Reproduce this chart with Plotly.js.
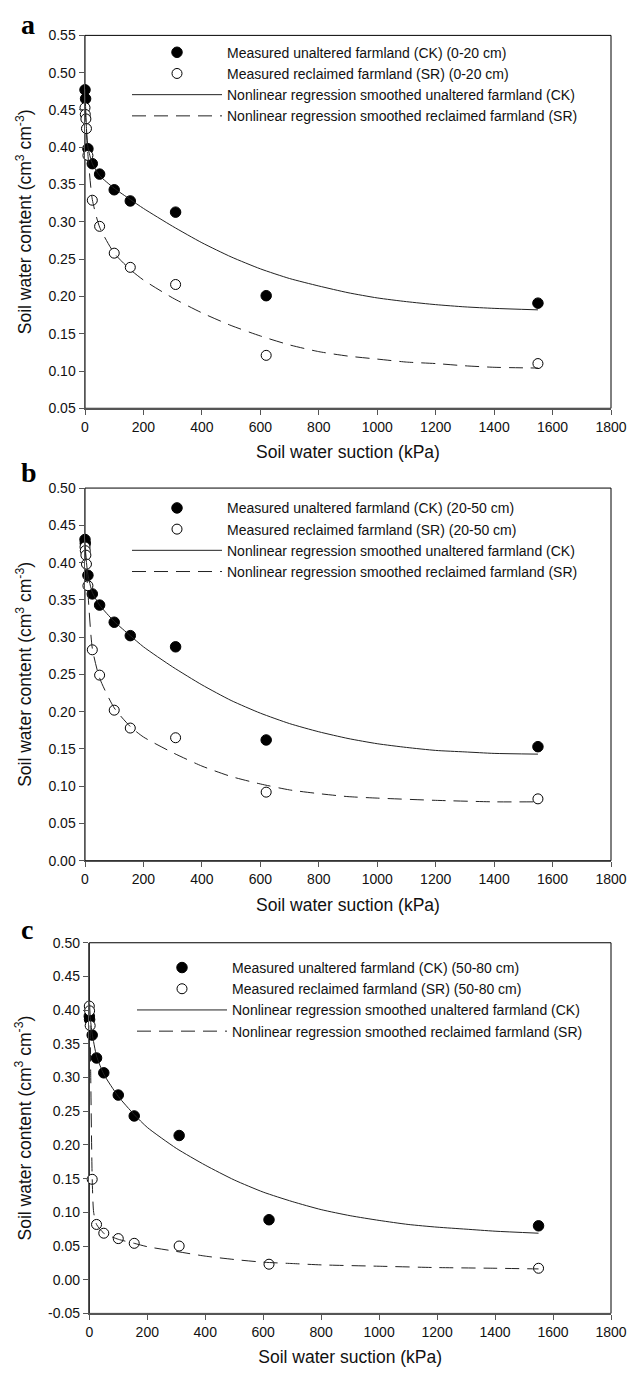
<!DOCTYPE html>
<html>
<head>
<meta charset="utf-8">
<script src="https://cdn.plot.ly/plotly-3.0.1.min.js"></script>
<style>html,body{margin:0;padding:0;background:#fff;}#chart{width:628px;height:1382px;}</style>
</head>
<body>
<div id="chart"></div>
<script>
// ---------- Panel a (0-20 cm) ----------
const suctionA_CK = [0, 2, 10, 25, 50, 100, 155, 310, 620, 1550];
const thetaA_CK   = [0.477, 0.465, 0.398, 0.378, 0.364, 0.343, 0.328, 0.313, 0.201, 0.191];
const suctionA_SR = [0, 1, 3, 5, 10, 25, 50, 100, 155, 310, 620, 1550];
const thetaA_SR   = [0.453, 0.444, 0.438, 0.425, 0.389, 0.329, 0.294, 0.258, 0.239, 0.216, 0.121, 0.110];
const fitSuctionA_CK = [0, 2, 5, 10, 25, 50, 100, 155, 200, 300, 400, 500, 600, 700, 800, 900, 1000, 1100, 1200, 1300, 1400, 1550];
const fitThetaA_CK   = [0.478, 0.455, 0.425, 0.400, 0.378, 0.362, 0.345, 0.330, 0.318, 0.294, 0.272, 0.253, 0.237, 0.224, 0.214, 0.205, 0.198, 0.193, 0.189, 0.186, 0.184, 0.182];
const fitSuctionA_SR = [0, 2, 5, 10, 25, 50, 100, 155, 200, 300, 400, 500, 600, 700, 800, 900, 1000, 1100, 1200, 1300, 1400, 1550];
const fitThetaA_SR   = [0.453, 0.440, 0.420, 0.390, 0.330, 0.293, 0.258, 0.236, 0.222, 0.198, 0.178, 0.161, 0.147, 0.135, 0.126, 0.120, 0.116, 0.112, 0.110, 0.107, 0.105, 0.104];

// ---------- Panel b (20-50 cm) ----------
const suctionB_CK = [0, 1, 10, 25, 50, 100, 155, 310, 620, 1550];
const thetaB_CK   = [0.431, 0.426, 0.383, 0.358, 0.343, 0.320, 0.302, 0.287, 0.162, 0.153];
const suctionB_SR = [0, 1, 3, 5, 10, 25, 50, 100, 155, 310, 620, 1550];
const thetaB_SR   = [0.421, 0.416, 0.410, 0.398, 0.369, 0.283, 0.249, 0.202, 0.178, 0.165, 0.092, 0.083];
const fitSuctionB_CK = [0, 2, 5, 10, 25, 50, 100, 155, 200, 300, 400, 500, 600, 700, 800, 900, 1000, 1100, 1200, 1300, 1400, 1550];
const fitThetaB_CK   = [0.431, 0.415, 0.400, 0.384, 0.360, 0.343, 0.321, 0.302, 0.287, 0.260, 0.236, 0.215, 0.198, 0.184, 0.173, 0.164, 0.157, 0.152, 0.148, 0.146, 0.144, 0.143];
const fitSuctionB_SR = [0, 2, 5, 10, 25, 50, 100, 155, 200, 300, 400, 500, 600, 700, 800, 900, 1000, 1200, 1400, 1550];
const fitThetaB_SR   = [0.421, 0.410, 0.390, 0.360, 0.285, 0.245, 0.205, 0.180, 0.166, 0.145, 0.127, 0.113, 0.103, 0.095, 0.090, 0.086, 0.084, 0.081, 0.079, 0.079];

// ---------- Panel c (50-80 cm) ----------
const suctionC_CK = [0, 1, 10, 25, 50, 100, 155, 310, 620, 1550];
const thetaC_CK   = [0.391, 0.386, 0.363, 0.329, 0.307, 0.274, 0.243, 0.214, 0.089, 0.080];
const suctionC_SR = [0, 1, 3, 10, 25, 50, 100, 155, 310, 620, 1550];
const thetaC_SR   = [0.406, 0.399, 0.377, 0.149, 0.082, 0.069, 0.061, 0.054, 0.050, 0.023, 0.017];
const fitSuctionC_CK = [0, 1, 3, 10, 25, 50, 100, 155, 200, 300, 400, 500, 600, 700, 800, 900, 1000, 1100, 1200, 1300, 1400, 1550];
const fitThetaC_CK   = [0.450, 0.410, 0.390, 0.365, 0.332, 0.305, 0.272, 0.245, 0.226, 0.195, 0.170, 0.148, 0.130, 0.116, 0.104, 0.095, 0.088, 0.082, 0.078, 0.075, 0.072, 0.069];
const fitSuctionC_SR = [0, 1, 3, 5, 10, 15, 25, 50, 100, 155, 200, 300, 400, 500, 600, 700, 800, 1000, 1200, 1400, 1550];
const fitThetaC_SR   = [0.410, 0.400, 0.370, 0.300, 0.150, 0.100, 0.082, 0.069, 0.060, 0.054, 0.049, 0.042, 0.035, 0.030, 0.026, 0.024, 0.022, 0.020, 0.018, 0.017, 0.016];

// ---------- Axis ticks / labels ----------
const xTicks = [0, 200, 400, 600, 800, 1000, 1200, 1400, 1600, 1800];
const legendA = ["Measured unaltered farmland (CK) (0-20 cm)", "Measured reclaimed farmland (SR) (0-20 cm)",
                 "Nonlinear regression smoothed unaltered farmland (CK)", "Nonlinear regression smoothed reclaimed farmland (SR)"];
const legendB = ["Measured unaltered farmland (CK) (20-50 cm)", "Measured reclaimed farmland (SR) (20-50 cm)",
                 "Nonlinear regression smoothed unaltered farmland (CK)", "Nonlinear regression smoothed reclaimed farmland (SR)"];
const legendC = ["Measured unaltered farmland (CK) (50-80 cm)", "Measured reclaimed farmland (SR) (50-80 cm)",
                 "Nonlinear regression smoothed unaltered farmland (CK)", "Nonlinear regression smoothed reclaimed farmland (SR)"];
const panelLetters = ["a", "b", "c"];

const FONT = "Liberation Sans, Arial, sans-serif";
const W = 628, H = 1382;

function panelTraces(ax, leg, names, ck, ckY, sr, srY, fck, fckY, fsr, fsrY) {
  const xa = 'x' + ax, ya = 'y' + ax;
  return [
    {x: ck, y: ckY, type: 'scatter', mode: 'markers', name: names[0], legend: leg, xaxis: xa, yaxis: ya,
     marker: {symbol: 'circle', size: 10.5, color: '#000', line: {color: '#000', width: 1}}, cliponaxis: false},
    {x: sr, y: srY, type: 'scatter', mode: 'markers', name: names[1], legend: leg, xaxis: xa, yaxis: ya,
     marker: {symbol: 'circle', size: 10, color: '#fff', line: {color: '#000', width: 1}}, cliponaxis: false},
    {x: fck, y: fckY, type: 'scatter', mode: 'lines', name: names[2], legend: leg, xaxis: xa, yaxis: ya,
     line: {color: '#222', width: 1, shape: 'spline', smoothing: 0.6}},
    {x: fsr, y: fsrY, type: 'scatter', mode: 'lines', name: names[3], legend: leg, xaxis: xa, yaxis: ya,
     line: {color: '#222', width: 1, dash: '14px,8px', shape: 'spline', smoothing: 0.6}}
  ];
}

const data = [].concat(
  panelTraces('', 'legend', legendA, suctionA_CK, thetaA_CK, suctionA_SR, thetaA_SR, fitSuctionA_CK, fitThetaA_CK, fitSuctionA_SR, fitThetaA_SR),
  panelTraces('2', 'legend2', legendB, suctionB_CK, thetaB_CK, suctionB_SR, thetaB_SR, fitSuctionB_CK, fitThetaB_CK, fitSuctionB_SR, fitThetaB_SR),
  panelTraces('3', 'legend3', legendC, suctionC_CK, thetaC_CK, suctionC_SR, thetaC_SR, fitSuctionC_CK, fitThetaC_CK, fitSuctionC_SR, fitThetaC_SR)
);

// pixel boxes of plot areas
const boxes = [
  {l: 85, r: 611, t: 27.7, b: 405},
  {l: 85, r: 611, t: 485.7, b: 862.7},
  {l: 89.3, r: 611, t: 945.7, b: 1320.7}
];
const yRanges = [[0.05, 0.55], [0.0, 0.5], [-0.05, 0.5]];

function xAxis(i) {
  const b = boxes[i];
  return {
    domain: [b.l / W, b.r / W], anchor: i === 0 ? 'y' : 'y' + (i + 1),
    range: [0, 1800], tickvals: xTicks, ticktext: xTicks.map(String),
    ticks: 'outside', ticklen: 5, tickwidth: 1, tickcolor: '#555',
    showline: true, linecolor: '#555', linewidth: 1.5, showgrid: false, zeroline: false,
    tickfont: {family: FONT, size: 14, color: '#111'},
    title: {text: 'Soil water suction (kPa)', font: {family: FONT, size: 17.5, color: '#111'}, standoff: 12},
    automargin: false
  };
}
function yAxis(i) {
  const b = boxes[i];
  const r = yRanges[i];
  const vals = [];
  for (let k = 0; r[0] + k * 0.05 <= r[1] + 1e-9; k++) vals.push(+(r[0] + k * 0.05).toFixed(2));
  return {
    domain: [1 - b.b / H, 1 - b.t / H], anchor: i === 0 ? 'x' : 'x' + (i + 1),
    range: r, tickvals: vals, ticktext: vals.map(v => v.toFixed(2)),
    ticks: 'outside', ticklen: 5, tickwidth: 1, tickcolor: '#555',
    showline: true, linecolor: '#555', linewidth: 1.5, showgrid: false, zeroline: false,
    tickfont: {family: FONT, size: 14, color: '#111'},
    title: {text: 'Soil water content (cm<sup>3</sup> cm<sup>-3</sup>)', font: {family: FONT, size: 17.5, color: '#111'}, standoff: 12},
    automargin: true
  };
}

const legendTops = [29, 490, 955];
const legendLefts = [127, 127, 132];
function legendSpec(i) {
  return {
    x: legendLefts[i] / W, xanchor: 'left', y: 1 - legendTops[i] / H, yanchor: 'top',
    bgcolor: 'rgba(0,0,0,0)', borderwidth: 0, tracegroupgap: 0, itemwidth: 90,
    font: {family: FONT, size: 14, color: '#111'}
  };
}

const shapes = boxes.map((b, i) => ({
  type: 'rect', xref: 'paper', yref: 'paper', layer: 'below',
  x0: b.l / W, x1: b.r / W, y0: 1 - b.b / H, y1: 1 - b.t / H,
  line: {color: '#000', width: 1}
}));

const letterY = [17, 470, 932];
const annotations = panelLetters.map((t, i) => ({
  text: '<b>' + t + '</b>', xref: 'paper', yref: 'paper', x: 19 / W, y: 1 - letterY[i] / H,
  xanchor: 'left', yanchor: 'middle', showarrow: false,
  font: {family: 'Liberation Serif, Times New Roman, serif', size: 28, color: '#000'}
}));

const layout = {
  width: W, height: H, margin: {l: 0, r: 0, t: 0, b: 0},
  paper_bgcolor: '#fff', plot_bgcolor: 'rgba(0,0,0,0)',
  showlegend: true,
  xaxis: xAxis(0), yaxis: yAxis(0),
  xaxis2: xAxis(1), yaxis2: yAxis(1),
  xaxis3: xAxis(2), yaxis3: yAxis(2),
  legend: legendSpec(0), legend2: legendSpec(1), legend3: legendSpec(2),
  shapes: shapes, annotations: annotations,
  font: {family: FONT}
};

Plotly.newPlot('chart', data, layout, {staticPlot: true, displayModeBar: false});
</script>
</body>
</html>
